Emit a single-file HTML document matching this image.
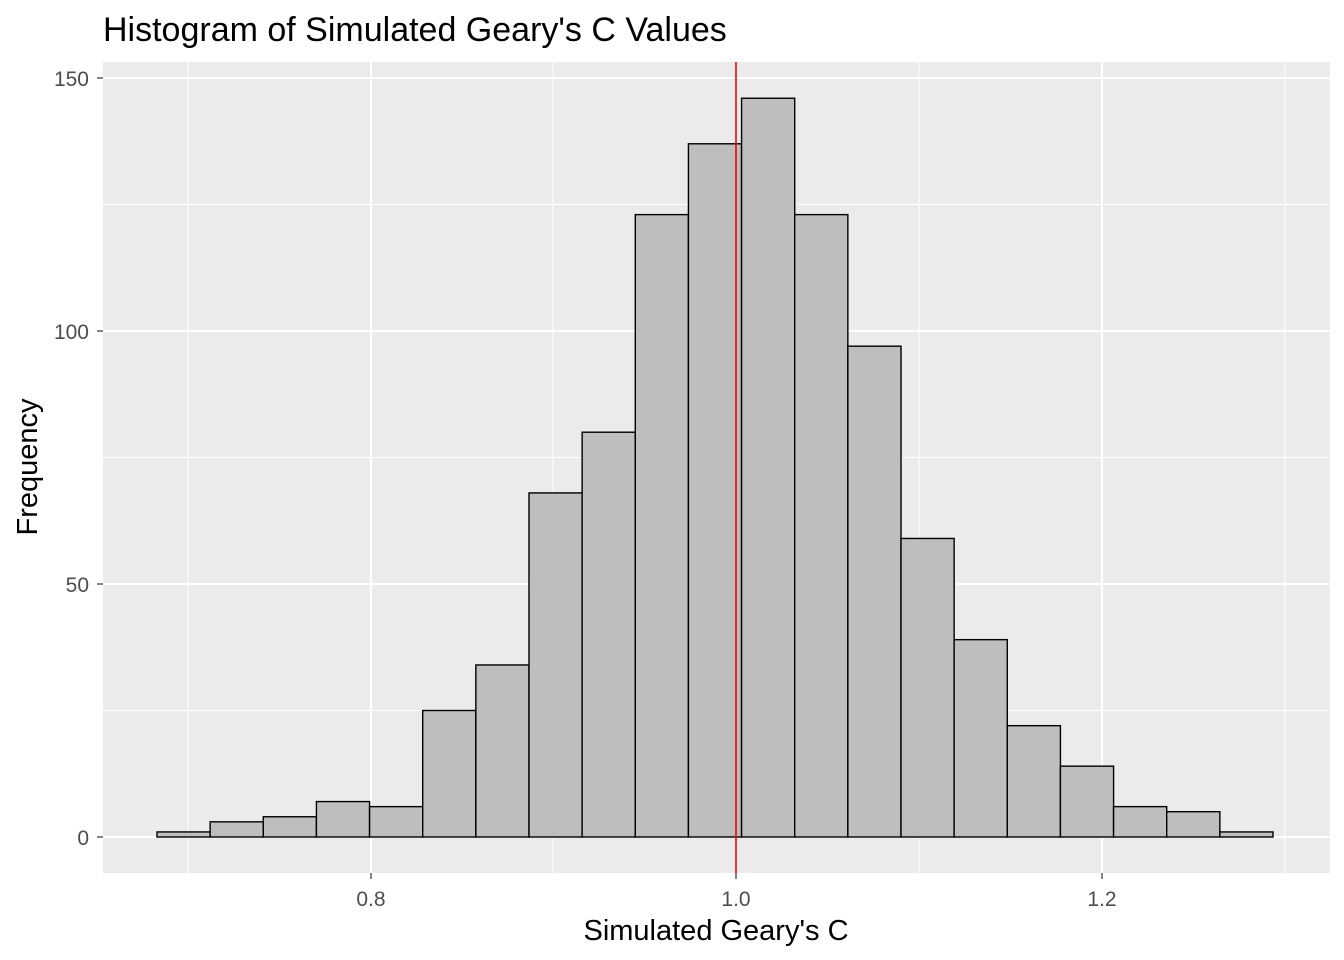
<!DOCTYPE html>
<html><head><meta charset="utf-8"><style>body{margin:0;background:#fff}svg{display:block}</style></head>
<body>
<svg width="1344" height="960" xmlns="http://www.w3.org/2000/svg" font-family="Liberation Sans, sans-serif">
<rect width="1344" height="960" fill="#fff"/>
<rect x="103" y="62" width="1227" height="811" fill="#ebebeb"/>
<g stroke="#fff" stroke-width="1">
<line x1="103" x2="1330" y1="710.5" y2="710.5"/><line x1="103" x2="1330" y1="457.5" y2="457.5"/><line x1="103" x2="1330" y1="204.5" y2="204.5"/>
<line x1="188" x2="188" y1="62" y2="873"/><line x1="553" x2="553" y1="62" y2="873"/><line x1="919" x2="919" y1="62" y2="873"/><line x1="1285" x2="1285" y1="62" y2="873"/>
</g>
<g stroke="#fff" stroke-width="2">
<line x1="103" x2="1330" y1="837" y2="837"/><line x1="103" x2="1330" y1="584" y2="584"/><line x1="103" x2="1330" y1="331" y2="331"/><line x1="103" x2="1330" y1="78" y2="78"/>
<line x1="371" x2="371" y1="62" y2="873"/><line x1="736" x2="736" y1="62" y2="873"/><line x1="1102" x2="1102" y1="62" y2="873"/>
</g>
<g fill="#bebebe" stroke="#000" stroke-width="1.4">
<rect x="157" y="831.94" width="53.14" height="5.06"/>
<rect x="210.14" y="821.82" width="53.14" height="15.18"/>
<rect x="263.29" y="816.76" width="53.14" height="20.24"/>
<rect x="316.43" y="801.58" width="53.14" height="35.42"/>
<rect x="369.57" y="806.64" width="53.14" height="30.36"/>
<rect x="422.71" y="710.5" width="53.14" height="126.5"/>
<rect x="475.86" y="664.96" width="53.14" height="172.04"/>
<rect x="529" y="492.92" width="53.14" height="344.08"/>
<rect x="582.14" y="432.2" width="53.14" height="404.8"/>
<rect x="635.29" y="214.62" width="53.14" height="622.38"/>
<rect x="688.43" y="143.78" width="53.14" height="693.22"/>
<rect x="741.57" y="98.24" width="53.14" height="738.76"/>
<rect x="794.71" y="214.62" width="53.14" height="622.38"/>
<rect x="847.86" y="346.18" width="53.14" height="490.82"/>
<rect x="901" y="538.46" width="53.14" height="298.54"/>
<rect x="954.14" y="639.66" width="53.14" height="197.34"/>
<rect x="1007.29" y="725.68" width="53.14" height="111.32"/>
<rect x="1060.43" y="766.16" width="53.14" height="70.84"/>
<rect x="1113.57" y="806.64" width="53.14" height="30.36"/>
<rect x="1166.71" y="811.7" width="53.14" height="25.3"/>
<rect x="1219.86" y="831.94" width="53.14" height="5.06"/>
</g>
<line x1="736" x2="736" y1="62" y2="873" stroke="#e00" stroke-width="1.6"/>
<g font-size="21" fill="#4d4d4d" text-anchor="end">
<text x="89" y="845">0</text><text x="89" y="592">50</text><text x="89" y="339">100</text><text x="89" y="86">150</text>
</g>
<g stroke="#333" stroke-width="1.2">
<line x1="97" x2="103" y1="837" y2="837"/><line x1="97" x2="103" y1="584" y2="584"/><line x1="97" x2="103" y1="331" y2="331"/><line x1="97" x2="103" y1="78" y2="78"/>
<line x1="371" x2="371" y1="873" y2="879"/><line x1="736" x2="736" y1="873" y2="879"/><line x1="1102" x2="1102" y1="873" y2="879"/>
</g>
<g font-size="21" fill="#4d4d4d" text-anchor="middle">
<text x="371" y="906">0.8</text><text x="736" y="906">1.0</text><text x="1102" y="906">1.2</text>
</g>
<text x="716" y="940" font-size="29" text-anchor="middle">Simulated Geary's C</text>
<text transform="translate(37,467) rotate(-90)" font-size="29" text-anchor="middle">Frequency</text>
<text x="103" y="41" font-size="34">Histogram of Simulated Geary's C Values</text>
</svg>
</body></html>
